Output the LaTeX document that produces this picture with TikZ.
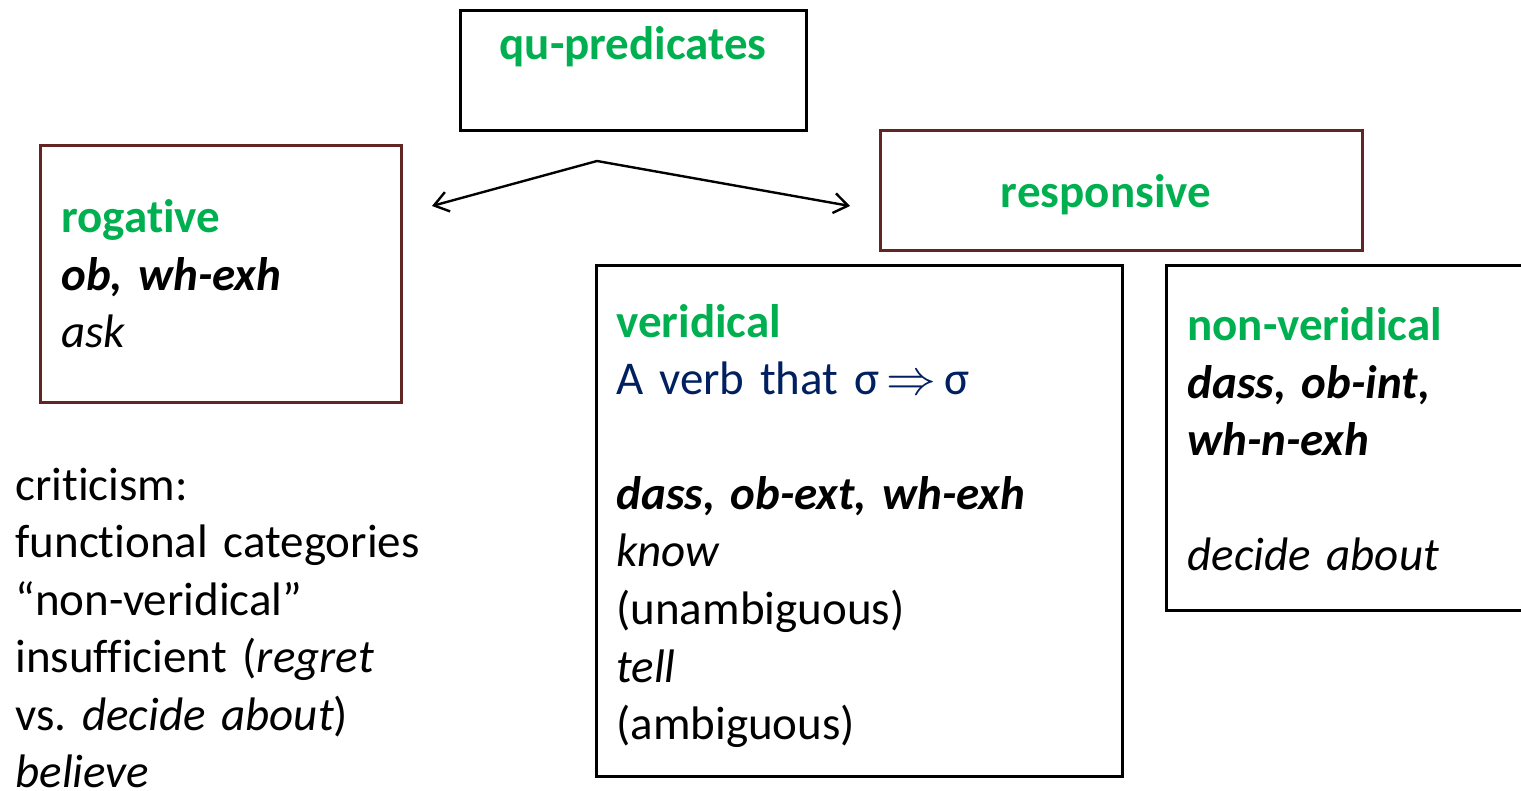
\documentclass[tikz,border=0pt]{standalone}
\usepackage{fontspec}
\setmainfont{Carlito}[Ligatures=NoCommon]
\usepackage{xcolor}
\usetikzlibrary{arrows.meta,positioning}

\definecolor{catgreen}{HTML}{00B050}
\definecolor{framered}{HTML}{632523}
\definecolor{defblue}{HTML}{002060}

\newcommand{\slidefont}{\fontsize{23.5}{28.75}\selectfont}

\tikzset{
  frame/.style={draw=black, line width=1.5pt, inner sep=0pt},
  redframe/.style={draw=framered, line width=1.5pt, inner sep=0pt},
  boxtext/.style={anchor=base west, inner sep=0pt, align=left, text width=#1},
  boxtext/.default=150pt,
  heading/.style={font=\slidefont\bfseries, text=catgreen, inner sep=0pt}
}

\begin{document}
\begin{tikzpicture}[x=0.5pt,y=-0.5pt,>={Straight Barb[length=7pt,width=10pt]},
  every node/.append style={font=\slidefont}]
  \useasboundingbox (0,0) rectangle (1521,791);

  % boxes
  \node[frame, minimum width=173pt, minimum height=60pt] (qu) at (633,71) {};
  \node[redframe, minimum width=180.5pt, minimum height=128pt] (rog) at (220.5,274) {};
  \node[redframe, minimum width=241pt, minimum height=60pt] (resp) at (1121,191) {};
  \node[frame, minimum width=263pt, minimum height=255pt] (ver) at (859,521) {};
  \node[frame, minimum width=187pt, minimum height=172pt] (nonver) at (1353,438) {};

  % headings
  \node[heading] (qutext) at (633,47) {qu-predicates};
  \node[heading] (resptext) at (1106,195) {responsive};

  \node[boxtext] (rogtext) at (61,233)
    {\textcolor{catgreen}{\bfseries rogative}\\
     \textbf{\textit{ob, wh-exh}}\\
     \textit{ask}};

  \node[boxtext=240pt] (vertext) at (616,337)
    {\textcolor{catgreen}{\bfseries veridical}\\
     \textcolor{defblue}{A verb that σ\,$\Rightarrow$\,σ}\\
     \mbox{}\\
     \textbf{\textit{dass, ob-ext, wh-exh}}\\
     \textit{know}\\
     (unambiguous)\\
     \textit{tell}\\
     (ambiguous)};

  \node[boxtext=170pt] (nonvertext) at (1187,341)
    {\textcolor{catgreen}{\bfseries non-veridical}\\
     \textbf{\textit{dass, ob-int,}}\\
     \textbf{\textit{wh-n-exh}}\\
     \mbox{}\\
     \textit{decide about}};

  \node[boxtext=210pt] (crit) at (15,500)
    {criticism:\\
     functional categories\\
     “non-veridical”\\
     insufficient (\textit{regret}\\
     vs.\ \textit{decide about})\\
     \textit{believe}};

  % split arrow
  \coordinate (apex) at (597,161);
  \coordinate (rogtip) at (432,206);
  \coordinate (resptip) at (850,206);
  \draw[<->, line width=1.2pt] (rogtip) -- (apex) -- (resptip);
\end{tikzpicture}
\end{document}
